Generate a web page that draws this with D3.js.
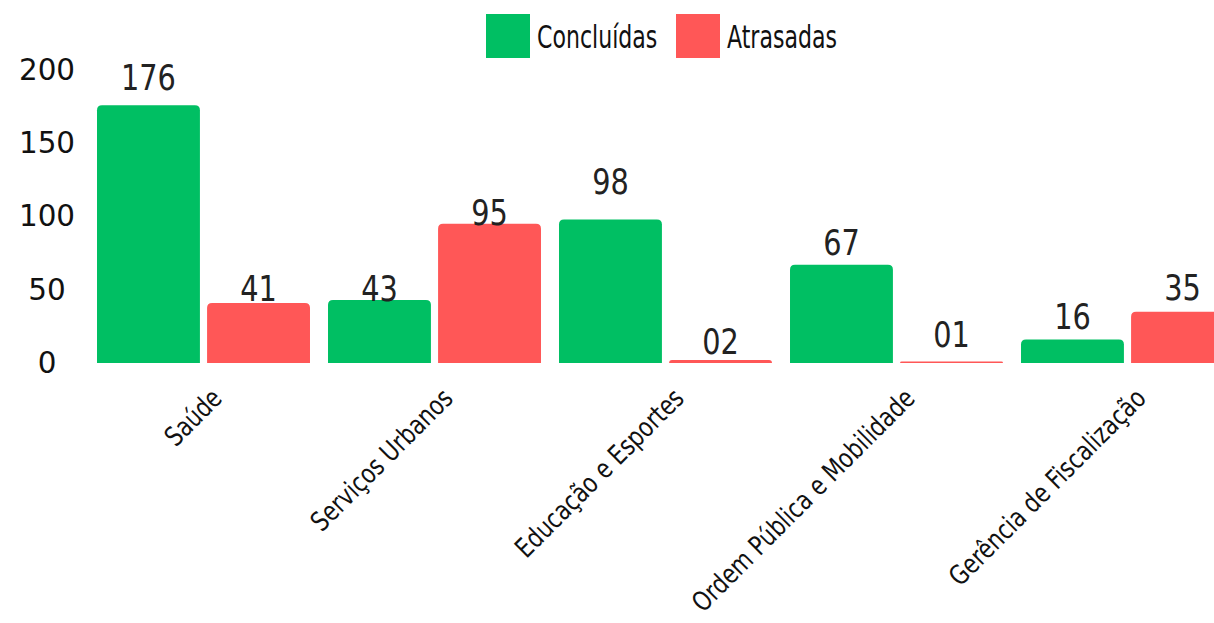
<!DOCTYPE html>
<html>
<head>
<meta charset="utf-8">
<script src="https://cdn.jsdelivr.net/npm/d3@7"></script>
<style>
  body { margin: 0; background: #fff; }
  text { font-family: "DejaVu Sans", sans-serif; }
</style>
</head>
<body>
<div id="chart"></div>
<script>
// data
var categories = ["Saúde", "Serviços Urbanos", "Educação e Esportes", "Ordem Pública e Mobilidade", "Gerência de Fiscalização"];
var seriesNames = ["Concluídas", "Atrasadas"];
var concluidas = [176, 43, 98, 67, 16];
var atrasadas = [41, 95, 2, 1, 35];
var yTicks = [0, 50, 100, 150, 200];

var seriesColors = ["#00bf63", "#ff5757"];
var textColor = "#222";

// gap between each value label and its bar top (the original placed them unevenly)
var labelGap = {
  "Concluídas": [15, -1, 25, 10, 11],
  "Atrasadas": [2, -1, 6, 15, 12]
};

var width = 1214;
var height = 623;

var svg = d3.select("#chart")
  .append("svg")
  .attr("width", width)
  .attr("height", height);

// the plot runs past the right edge, like the original
var x0 = d3.scaleBand()
  .domain(categories)
  .range([88, 1243])
  .paddingInner(0.078)
  .paddingOuter(0.039);

var x1 = d3.scaleBand()
  .domain(seriesNames)
  .range([0, x0.bandwidth()])
  .paddingInner(0.065);

var y = d3.scaleLinear()
  .domain([0, 200])
  .range([363, 70]);

var color = d3.scaleOrdinal().domain(seriesNames).range(seriesColors);

var rows = categories.map(function (c, i) {
  return { cat: c, values: [
    { key: seriesNames[0], value: concluidas[i], idx: i },
    { key: seriesNames[1], value: atrasadas[i], idx: i }
  ] };
});

// bar with rounded top corners
function barPath(x, w, yTop, yBottom, r) {
  var h = yBottom - yTop;
  r = Math.min(r, h, w / 2);
  return "M" + x + "," + yBottom +
    "V" + (yTop + r) +
    "Q" + x + "," + yTop + " " + (x + r) + "," + yTop +
    "H" + (x + w - r) +
    "Q" + (x + w) + "," + yTop + " " + (x + w) + "," + (yTop + r) +
    "V" + yBottom + "Z";
}

// no condensed font installed, so squeeze text horizontally
function squeeze(x, y, sx) {
  return "translate(" + x + "," + y + ") scale(" + sx + ",1)";
}

// y axis labels (no line)
var yAxis = svg.append("g")
  .attr("transform", "translate(60,0)")
  .call(d3.axisLeft(y).tickValues(yTicks).tickSize(0).tickPadding(0));
yAxis.attr("font-family", null);
yAxis.select(".domain").remove();
yAxis.selectAll("text")
  .attr("fill", "#111")
  .attr("text-anchor", "middle")
  .attr("x", 0)
  .attr("dy", "0.3em")
  .attr("transform", squeeze(-13, 0, 0.95))
  .style("font-size", "31px");

var groups = svg.selectAll("g.grp")
  .data(rows)
  .enter()
  .append("g")
  .attr("class", "grp")
  .attr("transform", function (d) { return "translate(" + x0(d.cat) + ",0)"; });

groups.selectAll("path")
  .data(function (d) { return d.values; })
  .enter()
  .append("path")
  .attr("d", function (d) {
    return barPath(x1(d.key), x1.bandwidth(), y(d.value), y(0), 5);
  })
  .attr("fill", function (d) { return color(d.key); });

var fmt = d3.format("02d");
groups.selectAll("text.val")
  .data(function (d) { return d.values; })
  .enter()
  .append("text")
  .attr("class", "val")
  .attr("transform", function (d) {
    return squeeze(x1(d.key) + x1.bandwidth() / 2, y(d.value) - labelGap[d.key][d.idx], 0.8);
  })
  .attr("text-anchor", "middle")
  .attr("fill", textColor)
  .style("font-size", "36px")
  .text(function (d) { return fmt(d.value); });

// category labels, rotated
svg.append("g")
  .selectAll("text")
  .data(categories)
  .enter()
  .append("text")
  .attr("transform", function (d) {
    return "translate(" + (x0(d) + x0.bandwidth() / 2 + 20) + ",400) rotate(-45) scale(0.8,1)";
  })
  .attr("text-anchor", "end")
  .attr("fill", "#111")
  .style("font-size", "27px")
  .text(function (d) { return d; });

// legend
var legend = svg.append("g");
var legendX = [486, 676];
seriesNames.forEach(function (s, i) {
  var g = legend.append("g").attr("transform", "translate(" + legendX[i] + ",14)");
  g.append("rect").attr("width", 44).attr("height", 44).attr("fill", color(s));
  g.append("text")
    .attr("transform", squeeze(51, 34, 0.69))
    .attr("fill", "#111")
    .style("font-size", "32px")
    .text(s);
});
</script>
</body>
</html>
